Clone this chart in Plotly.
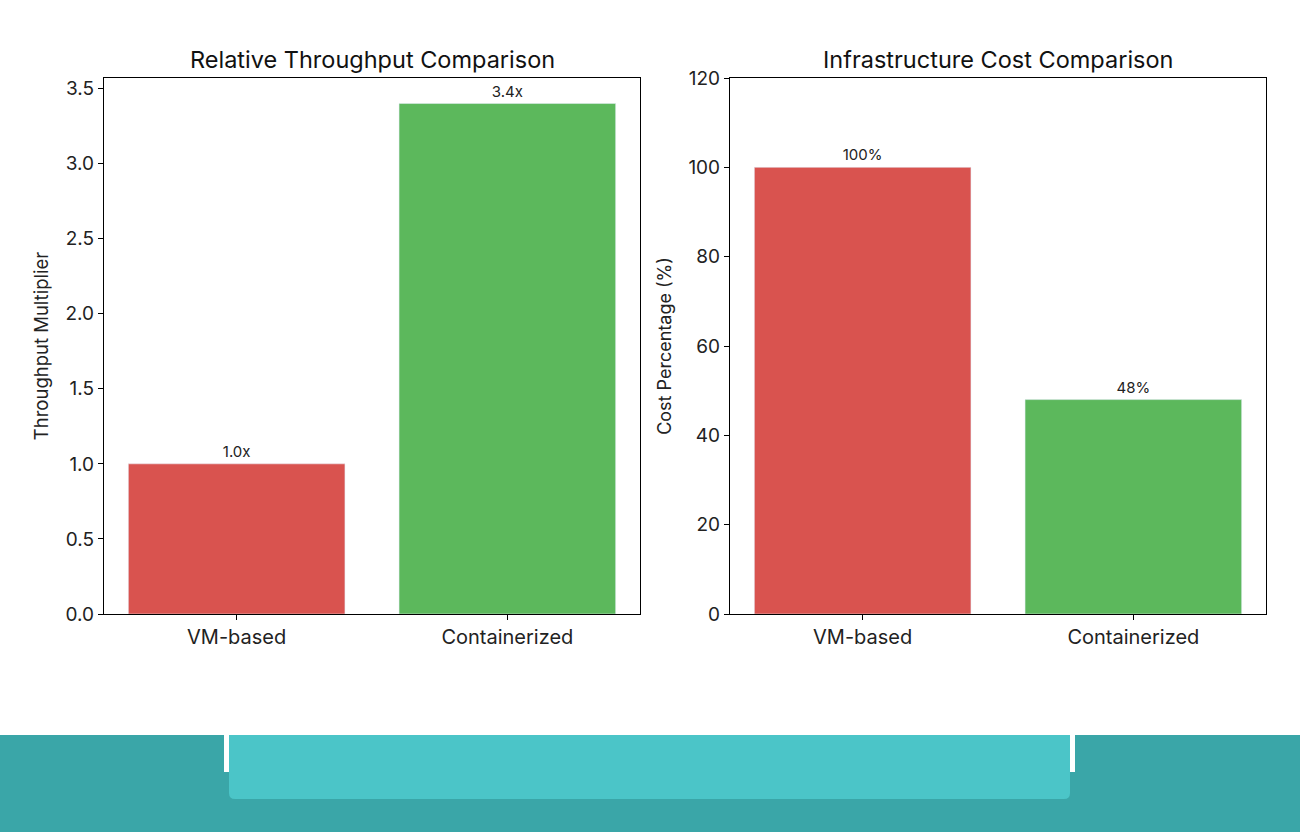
import plotly.graph_objects as go
from plotly.subplots import make_subplots

categories = ["VM-based", "Containerized"]
throughput = [1.0, 3.4]
throughput_labels = ["1.0x", "3.4x"]
cost = [100, 48]
cost_labels = ["100%", "48%"]
bar_colors = ["#D9534F", "#5CB85C"]

W, H = 1300, 832
FONT = "Inter"

def px(x):
    return x / W

def py(y):
    return 1 - y / H

fig = make_subplots(rows=1, cols=2)

fig.add_trace(go.Bar(x=categories, y=throughput, marker_color=bar_colors, width=0.8,
                     text=throughput_labels, textposition="outside", cliponaxis=False,
                     textfont=dict(size=15, color="#222"), showlegend=False), row=1, col=1)
fig.add_trace(go.Bar(x=categories, y=cost, marker_color=bar_colors, width=0.8,
                     text=cost_labels, textposition="outside", cliponaxis=False,
                     textfont=dict(size=15, color="#222"), showlegend=False), row=1, col=2)

axis_common = dict(showline=True, linecolor="black", linewidth=1.2, mirror=True,
                   ticks="outside", ticklen=5, tickcolor="black", showgrid=False,
                   zeroline=False, automargin=False)

xfont = dict(size=20, color="#222")
yfont = dict(size=19, color="#222")

# rounded light band (bottom corners rounded)
r = 6
x0, x1, yt, yb = 229, 1070, 735, 799
light_path = (f"M {px(x0)},{py(yt)} L {px(x1)},{py(yt)} L {px(x1)},{py(yb - r)} "
              f"Q {px(x1)},{py(yb)} {px(x1 - r)},{py(yb)} L {px(x0 + r)},{py(yb)} "
              f"Q {px(x0)},{py(yb)} {px(x0)},{py(yb - r)} Z")

fig.update_layout(
    width=W, height=H, autosize=False, margin=dict(l=0, r=0, t=0, b=0, pad=0, autoexpand=False),
    plot_bgcolor="white", paper_bgcolor="white",
    font=dict(family=FONT, color="#222"),
    xaxis=dict(domain=[px(104), px(640)], range=[-0.49, 1.49], anchor="y", tickfont=xfont, **axis_common),
    xaxis2=dict(domain=[px(730), px(1266)], range=[-0.49, 1.49], anchor="y2", tickfont=xfont, **axis_common),
    yaxis=dict(domain=[py(614), py(78)], range=[0, 3.57], tickvals=[0, 0.5, 1, 1.5, 2, 2.5, 3, 3.5],
               ticktext=["0.0", "0.5", "1.0", "1.5", "2.0", "2.5", "3.0", "3.5"], tickfont=yfont,
               title=dict(text="Throughput Multiplier", font=dict(size=18.5), standoff=12), **axis_common),
    yaxis2=dict(domain=[py(614), py(78)], range=[0, 120], tickvals=[0, 20, 40, 60, 80, 100, 120],
                tickfont=yfont,
                title=dict(text="Cost Percentage (%)", font=dict(size=18), standoff=12), **axis_common),
    annotations=[
        dict(text="Relative Throughput Comparison", x=(px(104) + px(640)) / 2, y=py(60),
             xref="paper", yref="paper", showarrow=False, font=dict(size=23.5, color="#111"),
             xanchor="center", yanchor="middle"),
        dict(text="Infrastructure Cost Comparison", x=(px(730) + px(1266)) / 2, y=py(60),
             xref="paper", yref="paper", showarrow=False, font=dict(size=23.5, color="#111"),
             xanchor="center", yanchor="middle"),
    ],
    shapes=[
        dict(type="rect", xref="paper", yref="paper", x0=0, x1=1, y0=0, y1=py(735),
             fillcolor="#3AA6A8", line=dict(width=0), layer="below"),
        dict(type="rect", xref="paper", yref="paper", x0=px(224), x1=px(229), y0=py(772), y1=py(735),
             fillcolor="white", line=dict(width=0), layer="below"),
        dict(type="rect", xref="paper", yref="paper", x0=px(1070), x1=px(1075), y0=py(772), y1=py(735),
             fillcolor="white", line=dict(width=0), layer="below"),
        dict(type="path", xref="paper", yref="paper", path=light_path,
             fillcolor="#4BC5C8", line=dict(width=0), layer="below"),
    ],
)

fig.write_html("out.html",
               post_script="document.body.style.margin='0';document.body.style.padding='0';"
                           "document.body.style.overflow='hidden';")
